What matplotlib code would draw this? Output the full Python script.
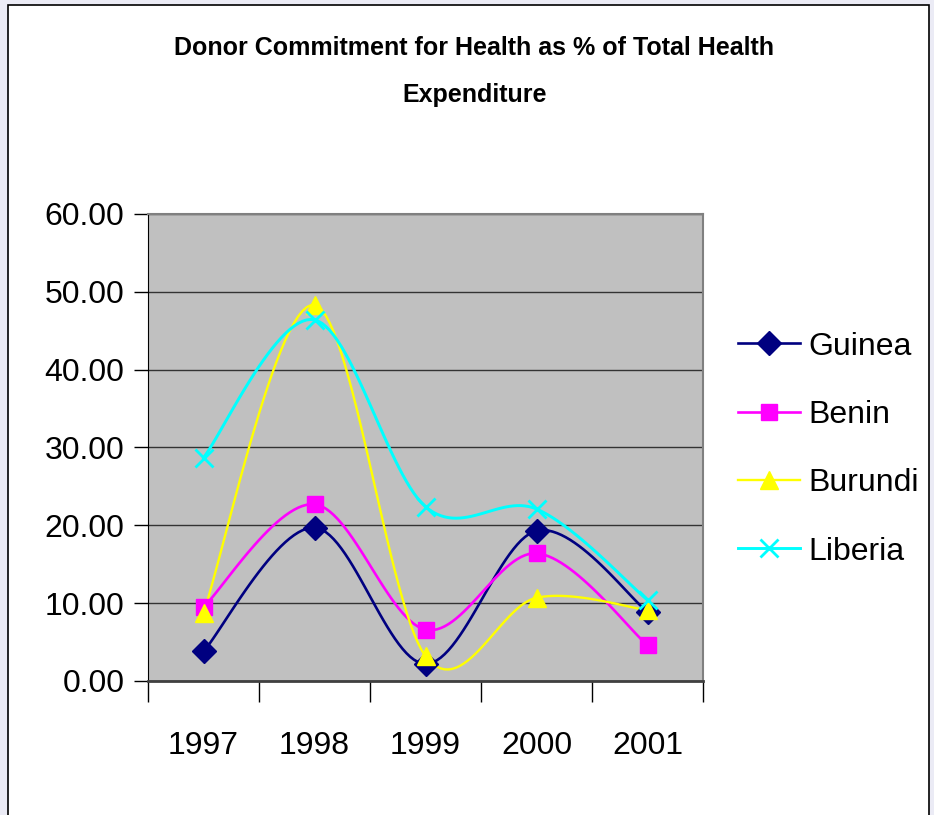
import numpy as np
import matplotlib.pyplot as plt
from matplotlib.lines import Line2D
from matplotlib.patches import Rectangle

years = ['1997', '1998', '1999', '2000', '2001']
guinea = [3.8, 19.7, 2.2, 19.3, 8.9]
benin = [9.5, 22.7, 6.6, 16.4, 4.6]
burundi = [8.8, 48.3, 3.2, 10.7, 9.1]
liberia = [28.7, 46.4, 22.4, 22.1, 10.4]

series = [
    ('Guinea', guinea, '#000080', 'D', 12, 1.9),
    ('Benin', benin, '#FF00FF', 's', 11, 1.9),
    ('Burundi', burundi, '#FFFF00', '^', 13, 1.7),
    ('Liberia', liberia, '#00FFFF', 'x', 13, 2.1),
]

plt.rcParams['font.family'] = ['Liberation Sans', 'DejaVu Sans']


def smooth(x, y, n=30):
    # excel-like smoothed line: bezier segments with catmull-rom control points
    p = np.column_stack([x, y]).astype(float)
    out = [p[0]]
    t = np.linspace(0, 1, n)[1:, None]
    for i in range(len(p) - 1):
        a = p[i - 1] if i > 0 else p[i]
        d = p[i + 2] if i + 2 < len(p) else p[i + 1]
        c1 = p[i] + (p[i + 1] - a) / 6
        c2 = p[i + 1] - (d - p[i]) / 6
        seg = ((1 - t) ** 3) * p[i] + 3 * ((1 - t) ** 2) * t * c1 + 3 * (1 - t) * t ** 2 * c2 + t ** 3 * p[i + 1]
        out.extend(seg)
    out = np.array(out)
    return out[:, 0], out[:, 1]


fig = plt.figure(figsize=(9.34, 8.15), dpi=100)
fig.patch.set_facecolor('#EBEBF5')
fig.patches.append(Rectangle((8 / 934, -0.05), 921 / 934, 1.05 - 5 / 815, transform=fig.transFigure,
                             facecolor='white', edgecolor='black', linewidth=1.2, zorder=-5))

ax = fig.add_axes([148 / 934, 1 - 681 / 815, 555 / 934, 467 / 815])
ax.set_facecolor('#C0C0C0')

x = np.arange(len(years))
handles = []
for name, vals, col, mk, ms, lw in series:
    sx, sy = smooth(x, vals)
    ax.plot(sx, sy, color=col, linewidth=lw, zorder=3)
    mew = 2 if mk == 'x' else 1
    ax.plot(x, vals, linestyle='none', marker=mk, markersize=ms, color=col, markeredgewidth=mew, zorder=4)
    handles.append(Line2D([], [], color=col, linewidth=lw, marker=mk, markersize=ms, markeredgewidth=mew))

ax.set_xlim(-0.5, 4.5)
ax.set_ylim(0, 60)
ax.set_yticks(np.arange(0, 61, 10))
ax.set_yticklabels(['%.2f' % v for v in np.arange(0, 61, 10)], fontsize=23)
ax.yaxis.grid(True, color='#333333', linewidth=1)
ax.set_axisbelow(True)
ax.tick_params(axis='y', length=10, width=1, pad=7)

ax.set_xticks(np.arange(-0.5, 5, 1))
ax.set_xticklabels([])
ax.set_xticks(x, minor=True)
ax.set_xticklabels(years, minor=True, fontsize=23)
ax.tick_params(axis='x', which='major', length=15, width=1)
ax.tick_params(axis='x', which='minor', length=0, pad=36)

for s in ['top', 'right']:
    ax.spines[s].set_color('#808080')
    ax.spines[s].set_linewidth(1.5)
ax.spines['left'].set_color('black')
ax.spines['bottom'].set_color('#404040')
ax.spines['bottom'].set_linewidth(2)

fig.text(0.508, 1 - 48 / 815, 'Donor Commitment for Health as % of Total Health', ha='center', va='center',
         fontsize=18, fontweight='bold')
fig.text(0.508, 1 - 95 / 815, 'Expenditure', ha='center', va='center', fontsize=18, fontweight='bold')

fig.legend(handles, [s[0] for s in series], loc='center left', bbox_to_anchor=(738 / 934, 1 - 449 / 815),
           frameon=False, fontsize=23, handlelength=1.95, handletextpad=0.25, labelspacing=1.2,
           borderpad=0, borderaxespad=0)

fig.savefig('out.png', dpi=100)
